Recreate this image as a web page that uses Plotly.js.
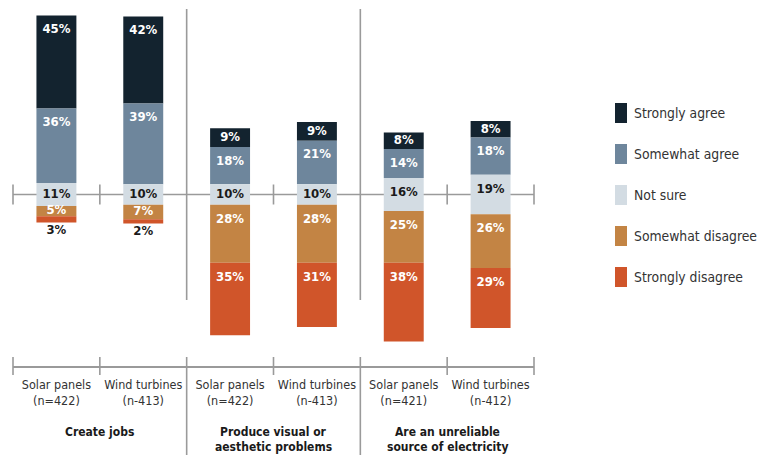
<!DOCTYPE html>
<html>
<head>
<meta charset="utf-8">
<script src="https://cdn.plot.ly/plotly-3.0.1.min.js"></script>
<style>html,body{margin:0;padding:0;background:#fff;}#chart{width:760px;height:455px;}</style>
</head>
<body>
<div id="chart"></div>
<script>
// ---- data ----
var categories = ["Solar panels", "Wind turbines", "Solar panels", "Wind turbines", "Solar panels", "Wind turbines"];
var sampleLabels = ["(n=422)", "(n-413)", "(n=422)", "(n-413)", "(n=421)", "(n-412)"];
var groupLabels = ["Create jobs", "Produce visual or\naesthetic problems", "Are an unreliable\nsource of electricity"];
var seriesNames = ["Strongly agree", "Somewhat agree", "Not sure", "Somewhat disagree", "Strongly disagree"];
var stronglyAgree = [45, 42, 9, 9, 8, 8];
var somewhatAgree = [36, 39, 18, 21, 14, 18];
var notSure = [11, 10, 10, 10, 16, 19];
var somewhatDisagree = [5, 7, 28, 28, 25, 26];
var stronglyDisagree = [3, 2, 35, 31, 38, 29];

// ---- styling ----
var FONT = "'Liberation Sans Narrow', 'DejaVu Sans Condensed', 'Arial Narrow', sans-serif";
var colors = ["#13232f", "#6e869c", "#d3dce3", "#c38444", "#d0552a"];
var textColors = ["#ffffff", "#ffffff", "#1a1a1a", "#ffffff", "#ffffff"];
var lineColor = "#9a9a9a";
var W = 760, H = 455;
var plotL = 13, plotR = 534, plotT = 0, plotB = 366;
var pxPerUnit = 2.07, zeroPx = 194.5;
var yTop = (zeroPx - plotT) / pxPerUnit;
var yBot = -(plotB - zeroPx) / pxPerUnit;
var xMin = -0.5, xMax = categories.length - 0.5;
function px2paperX(px) { return (px - plotL) / (plotR - plotL); }
function px2paperY(py) { return (plotB - py) / (plotB - plotT); }
function x2paper(x) { return (x - xMin) / (xMax - xMin); }

var xs = categories.map(function (_, i) { return i; });
var half = notSure.map(function (v) { return v / 2; });
var barWidth = 0.46;
var labelDrop = 7; // label sits this many units under a segment's top

// segments: [values, base(bottom), top]
var values = [stronglyAgree, somewhatAgree, notSure, somewhatDisagree, stronglyDisagree];
var bottoms = [
  half.map(function (h, i) { return h + somewhatAgree[i]; }),
  half,
  half.map(function (h) { return -h; }),
  half.map(function (h, i) { return -h - somewhatDisagree[i]; }),
  half.map(function (h, i) { return -h - somewhatDisagree[i] - stronglyDisagree[i]; })
];

var barTraces = [], textTraces = [];
values.forEach(function (vals, s) {
  var tops = vals.map(function (v, i) { return bottoms[s][i] + v; });
  barTraces.push({
    type: "bar", name: seriesNames[s], x: xs, y: vals, base: bottoms[s], width: barWidth,
    marker: { color: colors[s], line: { width: 0 } },
    hoverinfo: "skip", showlegend: false
  });
  var ty = [], tc = [];
  vals.forEach(function (v, i) {
    if (s === 4 && v < 4) { ty.push(bottoms[s][i] - 3.8); tc.push("#1a1a1a"); }
    else { ty.push(tops[i] - Math.min(v / 2, labelDrop)); tc.push(textColors[s]); }
  });
  textTraces.push({
    type: "scatter", mode: "text", x: xs, y: ty,
    text: vals.map(function (v) { return v + "%"; }),
    textposition: "middle center",
    textfont: { family: FONT, size: 13, color: tc, weight: "bold" },
    cliponaxis: false, hoverinfo: "skip", showlegend: false
  });
});

// ---- structural shapes ----
var shapes = [];
var lineStyle = { color: lineColor, width: 1.6 };
shapes.push({ type: "line", layer: "below", xref: "paper", yref: "y", x0: 0, x1: 1, y0: 0, y1: 0, line: lineStyle });
var separators = [1.5, 3.5];
for (var b = xMin; b <= xMax + 1e-9; b += 1) {
  var isSep = separators.some(function (s) { return Math.abs(s - b) < 1e-6; });
  var xp = x2paper(b);
  if (isSep) {
    shapes.push({ type: "line", layer: "below", xref: "paper", yref: "paper", x0: xp, x1: xp,
      y0: px2paperY(9), y1: px2paperY(300), line: lineStyle });
    shapes.push({ type: "line", layer: "below", xref: "paper", yref: "paper", x0: xp, x1: xp,
      y0: px2paperY(357), y1: px2paperY(H), line: lineStyle });
  } else {
    shapes.push({ type: "line", layer: "below", xref: "paper", yref: "paper", x0: xp, x1: xp,
      y0: px2paperY(zeroPx - 10), y1: px2paperY(zeroPx + 10), line: lineStyle });
    shapes.push({ type: "line", layer: "below", xref: "paper", yref: "paper", x0: xp, x1: xp,
      y0: px2paperY(357), y1: px2paperY(375), line: lineStyle });
  }
}

// ---- custom legend ----
var annotations = [];
var legendTop = 113, legendStep = 41;
seriesNames.forEach(function (n, i) {
  var cy = legendTop + i * legendStep;
  shapes.push({ type: "rect", xref: "paper", yref: "paper",
    x0: px2paperX(615), x1: px2paperX(627), y0: px2paperY(cy - 10), y1: px2paperY(cy + 10),
    fillcolor: colors[i], line: { width: 0 } });
  annotations.push({ xref: "paper", yref: "paper", x: px2paperX(632), y: px2paperY(cy),
    xanchor: "left", yanchor: "middle", showarrow: false, text: n,
    font: { family: FONT, size: 13.8, color: "#333333" } });
});

// ---- group labels ----
groupLabels.forEach(function (g, gi) {
  g.split("\n").forEach(function (ln, li) {
    annotations.push({ xref: "x", yref: "paper", x: gi * 2 + 0.5, y: px2paperY(432 + li * 14.7),
      xanchor: "center", yanchor: "middle", showarrow: false, text: ln,
      font: { family: FONT, size: 12, color: "#1a1a1a", weight: "bold" } });
  });
});

var layout = {
  width: W, height: H,
  margin: { l: plotL, r: W - plotR, t: plotT, b: H - plotB, pad: 0 },
  paper_bgcolor: "#ffffff", plot_bgcolor: "#ffffff",
  barmode: "overlay", showlegend: false,
  font: { family: FONT, color: "#333333" },
  xaxis: {
    range: [xMin, xMax], showgrid: false, zeroline: false,
    showline: true, linecolor: lineColor, linewidth: 1.6,
    ticks: "", tickvals: xs,
    ticktext: categories.map(function (c, i) { return c + "<br>" + sampleLabels[i]; }),
    tickfont: { family: FONT, size: 12.5, color: "#333333" },
    ticklabelstandoff: 6, fixedrange: true
  },
  yaxis: { range: [yBot, yTop], visible: false, showgrid: false, zeroline: false, fixedrange: true },
  shapes: shapes,
  annotations: annotations
};

Plotly.newPlot("chart", barTraces.concat(textTraces), layout, { displayModeBar: false, staticPlot: true });
</script>
</body>
</html>
